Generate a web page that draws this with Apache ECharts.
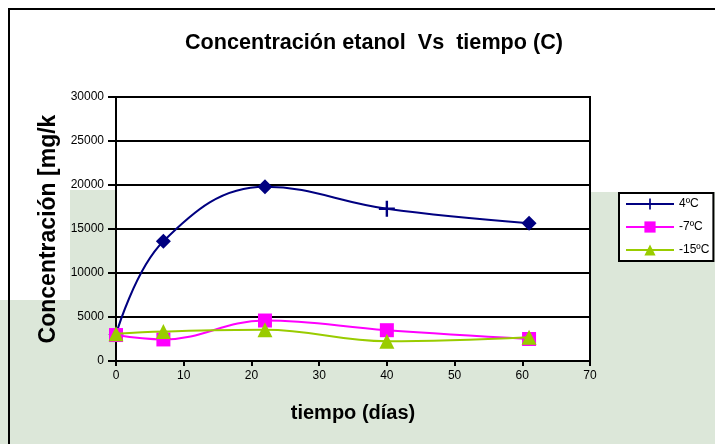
<!DOCTYPE html>
<html><head><meta charset="utf-8">
<script src="https://cdn.jsdelivr.net/npm/echarts@6/dist/echarts.min.js"></script>
<style>html,body{margin:0;padding:0;background:#fff}#c{width:715px;height:444px}</style>
</head><body><div id="c"></div>
<script>
const titleText = 'Concentración etanol  Vs  tiempo (C)';
const xName = 'tiempo (días)';
const yName = 'Concentración [mg/kg]';
const seriesNames = ['4ºC', '-7ºC', '-15ºC'];
const days = [0, 7, 22, 40, 61];
const s4 = [3000, 13600, 19800, 17300, 15650];
const s7 = [2950, 2450, 4600, 3500, 2500];
const s15 = [3100, 3350, 3550, 2250, 2700];
const s4Symbols = ['diamond', 'diamond', 'diamond', null, 'diamond'];

const chart = echarts.init(document.getElementById('c'));
const F = 'Liberation Sans, Arial, sans-serif';
const tex = '#dce7d9';
function pair(xs, ys){ return xs.map((x,i)=>[x, ys[i]]); }
const d4 = pair(days, s4).map((p,i)=> s4Symbols[i] ? {value:p, symbol:s4Symbols[i], symbolSize:15} : {value:p});
const plusSym = 'path://M8.5,0H11.5V8.5H20V11.5H11.5V20H8.5V11.5H0V8.5H8.5Z';

chart.setOption({
  backgroundColor: '#fff',
  animation: false,
  graphic: [
    {type:'rect', z:-10, shape:{x:0,y:300,width:116,height:144}, style:{fill:tex}},
    {type:'rect', z:-10, shape:{x:70,y:190,width:46,height:110}, style:{fill:tex}},
    {type:'rect', z:-10, shape:{x:590,y:192,width:125,height:252}, style:{fill:tex}},
    {type:'rect', z:-10, shape:{x:116,y:361,width:474,height:83}, style:{fill:tex}},
    {type:'polyline', z:100, shape:{points:[[9,444],[9,9],[715,9]]}, style:{stroke:'#000', lineWidth:2, fill:null}}
  ],
  title: {
    text: titleText, left: 180, top: 27,
    textStyle: {fontFamily: F, fontSize: 21.6, fontWeight: 'bold', color: '#000'}
  },
  legend: {
    orient: 'vertical', left: 619, top: 193,
    backgroundColor: '#fff', borderColor: '#000', borderWidth: 2,
    padding: [5, 4, 5, 6], itemWidth: 48, itemHeight: 14, itemGap: 11,
    textStyle: {fontFamily: F, fontSize: 12, color: '#000'},
    data: seriesNames
  },
  grid: {left: 116, right: 125, top: 97, bottom: 83, show: true, backgroundColor: '#fff', borderColor: '#000', borderWidth: 2, containLabel: false},
  xAxis: {
    type: 'value', min: 0, max: 70, interval: 10,
    name: xName, nameLocation: 'middle', nameGap: 42,
    nameTextStyle: {fontFamily: F, fontSize: 20, fontWeight: 'bold', color: '#000'},
    axisLine: {lineStyle: {color: '#000', width: 2}},
    axisTick: {show: true, length: 5, lineStyle: {color: '#000', width: 2}},
    axisLabel: {fontFamily: F, fontSize: 12, color: '#000', margin: 9},
    splitLine: {show: false}
  },
  yAxis: {
    type: 'value', min: 0, max: 30000, interval: 5000,
    name: yName, nameLocation: 'middle', nameGap: 51, nameRotate: 90,
    nameTruncate: {maxWidth: 236, ellipsis: ''},
    nameTextStyle: {fontFamily: F, fontSize: 23, fontWeight: 'bold', color: '#000'},
    axisLine: {lineStyle: {color: '#000', width: 2}},
    axisTick: {show: true, length: 8, lineStyle: {color: '#000', width: 2}},
    axisLabel: {fontFamily: F, fontSize: 12, color: '#000', margin: 12, formatter: v => String(v)},
    splitLine: {show: true, lineStyle: {color: '#000', width: 2}}
  },
  series: [
    {name: seriesNames[0], type: 'line', smooth: 0.4, data: d4, color: '#000080',
     symbol: plusSym, symbolSize: 16, lineStyle: {width: 2, color: '#000080'}, itemStyle: {color: '#000080'}, z: 3},
    {name: seriesNames[1], type: 'line', smooth: 0.4, data: pair(days, s7), color: '#ff00ff',
     symbol: 'rect', symbolSize: 14, lineStyle: {width: 2, color: '#ff00ff'}, itemStyle: {color: '#ff00ff'}, z: 4},
    {name: seriesNames[2], type: 'line', smooth: 0.4, data: pair(days, s15), color: '#99cc00',
     symbol: 'triangle', symbolSize: 15, lineStyle: {width: 2, color: '#99cc00'}, itemStyle: {color: '#99cc00'}, z: 5}
  ]
});
</script></body></html>
